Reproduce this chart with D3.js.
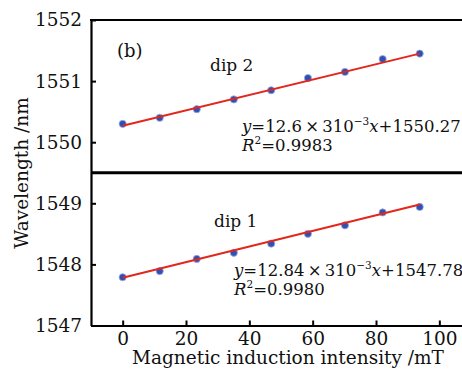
<!DOCTYPE html>
<html>
  <head>
    <meta charset="UTF-8" />
    <style>
      body {
        margin: 0;
        background-color: rgb(255, 255, 255);
      }
      svg text {
        font-family: 'DejaVu Serif', serif;
        fill: #111;
      }
    </style>
  </head>
  <body>
    <svg></svg>

    <script src="https://d3js.org/d3.v7.min.js"></script>

    <script>
      let width = 462,
        height = 376

      // field (mT) and dip wavelengths (nm)
      let field = [0, 11.7, 23.4, 35.1, 46.9, 58.5, 70.2, 82.1, 93.8]
      let dip2 = [1550.3, 1550.4, 1550.54, 1550.7, 1550.85, 1551.05, 1551.15, 1551.36, 1551.45]
      let dip1 = [1547.79, 1547.89, 1548.09, 1548.19, 1548.34, 1548.5, 1548.64, 1548.85, 1548.94]

      // ends of the fitted lines
      let fit2 = [[0, 1550.27], [93.8, 1551.45]]
      let fit1 = [[0, 1547.78], [93.8, 1548.98]]

      let xTicks = [0, 20, 40, 60, 80, 100]
      let yTicks = [1547, 1548, 1549, 1550, 1551, 1552]

      let svg = d3.select('svg').attr('width', width).attr('height', height)

      let x = d3.scaleLinear().domain([-10, 110]).range([91, 471])
      let y = d3.scaleLinear().domain([1547, 1552]).range([325.5, 20])

      // axes, ticks point inward
      let gx = svg
        .append('g')
        .attr('transform', 'translate(0,' + y(1547) + ')')
        .call(
          d3
            .axisBottom(x)
            .tickValues(xTicks)
            .tickFormat(d3.format('d'))
            .tickSizeInner(-5)
            .tickSizeOuter(0)
            .tickPadding(6)
        )
      let gy = svg
        .append('g')
        .attr('transform', 'translate(' + x(-10) + ',0)')
        .call(
          d3
            .axisLeft(y)
            .tickValues(yTicks)
            .tickFormat(d3.format('d'))
            .tickSizeInner(-5)
            .tickSizeOuter(0)
            .tickPadding(9)
        )
      for (let g of [gx, gy]) {
        g.select('.domain').attr('stroke', '#000').attr('stroke-width', 2.2)
        g.selectAll('.tick line').attr('stroke', '#000').attr('stroke-width', 2)
        g.selectAll('.tick text')
          .style('font-family', "'DejaVu Serif', serif")
          .style('font-size', '18.5px')
          .attr('fill', '#111')
      }

      // top frame and the divider between the two panels
      svg
        .append('line')
        .attr('x1', x(-10) - 1)
        .attr('x2', width)
        .attr('y1', y(1552))
        .attr('y2', y(1552))
        .attr('stroke', '#000')
        .attr('stroke-width', 2.2)
      svg
        .append('line')
        .attr('x1', x(-10))
        .attr('x2', width)
        .attr('y1', y(1549.5))
        .attr('y2', y(1549.5))
        .attr('stroke', '#000')
        .attr('stroke-width', 3.2)

      let line = d3
        .line()
        .x((d) => x(d[0]))
        .y((d) => y(d[1]))

      for (let [vals, fit] of [[dip2, fit2], [dip1, fit1]]) {
        svg
          .append('g')
          .selectAll('circle')
          .data(vals)
          .enter()
          .append('circle')
          .attr('cx', (d, i) => x(field[i]))
          .attr('cy', (d) => y(d))
          .attr('r', 3.6)
          .attr('fill', '#2f50b4')
          .attr('stroke', '#9fb0e0')
          .attr('stroke-width', 0.8)
        svg
          .append('path')
          .attr('d', line(fit))
          .attr('fill', 'none')
          .attr('stroke', '#e2271d')
          .attr('stroke-width', 2)
      }

      // labels
      svg.append('text').attr('x', 117).attr('y', 57).style('font-size', '18px').text('(b)')
      svg.append('text').attr('x', 210).attr('y', 71).style('font-size', '17px').text('dip 2')
      svg.append('text').attr('x', 214).attr('y', 227).style('font-size', '17px').text('dip 1')

      function equation(x0, y0, slope, icpt, r2) {
        let t = svg.append('text').attr('x', x0).attr('y', y0).style('font-size', '16.5px')
        t.append('tspan').style('font-style', 'italic').text('y')
        t.append('tspan').text('=' + slope + '\u2009\u00d7\u2009310')
        t.append('tspan').attr('dy', -7).style('font-size', '10.5px').text('\u22123')
        t.append('tspan').attr('dy', 7).style('font-style', 'italic').text('x')
        t.append('tspan').text('+' + icpt)
        let r = svg.append('text').attr('x', x0).attr('y', y0 + 19).style('font-size', '16.5px')
        r.append('tspan').style('font-style', 'italic').text('R')
        r.append('tspan').attr('dy', -7).style('font-size', '10.5px').text('2')
        r.append('tspan').attr('dy', 7).text('=' + r2)
      }
      equation(242, 132, '12.6', '1550.27', '0.9983')
      equation(234, 276, '12.84', '1547.78', '0.9980')

      // axis titles
      svg
        .append('text')
        .attr('x', 288)
        .attr('y', 364)
        .attr('text-anchor', 'middle')
        .style('font-size', '18.5px')
        .text('Magnetic induction intensity /mT')
      svg
        .append('text')
        .attr('transform', 'translate(28,173) rotate(-90)')
        .attr('text-anchor', 'middle')
        .style('font-size', '18.5px')
        .text('Wavelength /nm')
    </script>
  </body>
</html>
